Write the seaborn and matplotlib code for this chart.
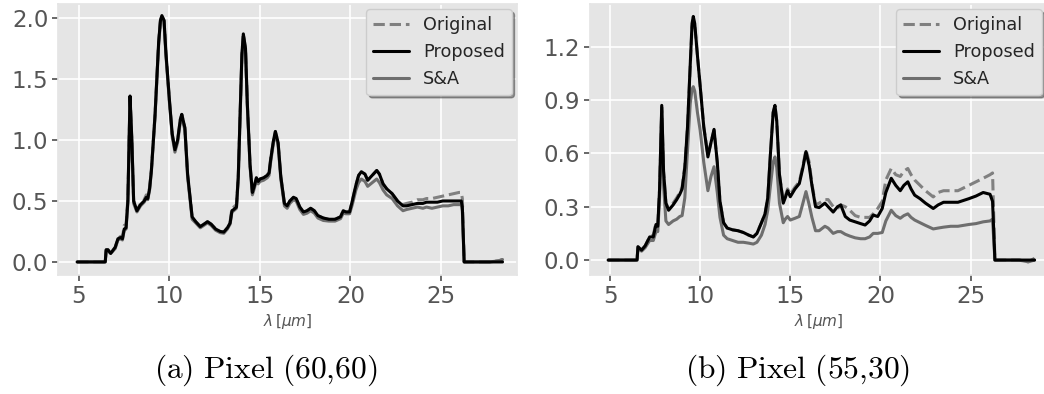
import matplotlib
matplotlib.use("Agg")
import matplotlib.pyplot as plt
import seaborn as sns

# wavelength knots and spectra, pixel (60,60)
left_wl = [4.9, 6.45, 6.5, 6.6, 6.75, 7.0, 7.15, 7.3, 7.4, 7.5,
           7.6, 7.7, 7.82, 7.92, 8.02, 8.2, 8.4, 8.6, 8.72, 8.8,
           8.9, 9.0, 9.2, 9.4, 9.5, 9.58, 9.7, 9.8, 10.0, 10.15,
           10.3, 10.45, 10.6, 10.68, 10.85, 11.0, 11.25, 11.45, 11.7, 11.9,
           12.1, 12.3, 12.55, 12.8, 13.0, 13.2, 13.35, 13.45, 13.55, 13.7,
           13.8, 13.9, 14.0, 14.08, 14.2, 14.3, 14.45, 14.58, 14.7, 14.8,
           14.9, 15.0, 15.2, 15.4, 15.5, 15.6, 15.75, 15.85, 16.0, 16.15,
           16.35, 16.5, 16.65, 16.85, 17.0, 17.2, 17.4, 17.6, 17.8, 18.0,
           18.2, 18.5, 18.8, 19.15, 19.45, 19.6, 19.75, 19.95, 20.1, 20.3,
           20.45, 20.6, 20.8, 20.95, 21.2, 21.45, 21.6, 21.8, 22.0, 22.3,
           22.6, 22.9, 23.1, 23.4, 23.7, 24.0, 24.2, 24.5, 24.8, 25.1,
           25.4, 25.7, 26.0, 26.12, 26.18, 26.28, 27.0, 27.7, 28.2, 28.4]
left_proposed = [0.0, 0.0, 0.10, 0.10, 0.07, 0.12, 0.19, 0.20, 0.19, 0.27,
                 0.28, 0.50, 1.36, 1.00, 0.50, 0.42, 0.47, 0.50, 0.53, 0.52,
                 0.60, 0.75, 1.20, 1.80, 1.98, 2.02, 1.98, 1.72, 1.32, 1.05,
                 0.92, 1.00, 1.17, 1.21, 1.10, 0.72, 0.37, 0.33, 0.29, 0.31,
                 0.33, 0.31, 0.27, 0.25, 0.245, 0.28, 0.32, 0.42, 0.43, 0.45,
                 0.70, 1.20, 1.70, 1.87, 1.75, 1.30, 0.80, 0.57, 0.63, 0.69,
                 0.66, 0.68, 0.69, 0.71, 0.73, 0.85, 1.00, 1.07, 0.98, 0.70,
                 0.48, 0.46, 0.50, 0.53, 0.52, 0.45, 0.41, 0.42, 0.44, 0.42,
                 0.38, 0.36, 0.35, 0.35, 0.37, 0.42, 0.41, 0.41, 0.50, 0.63,
                 0.71, 0.74, 0.72, 0.67, 0.71, 0.75, 0.72, 0.64, 0.60, 0.56,
                 0.50, 0.46, 0.46, 0.47, 0.48, 0.48, 0.49, 0.49, 0.49, 0.50,
                 0.50, 0.50, 0.50, 0.50, 0.45, 0.0, 0.0, 0.0, 0.0, 0.0]
left_original = [0.0, 0.0, 0.10, 0.10, 0.07, 0.12, 0.19, 0.21, 0.20, 0.30,
                 0.30, 0.52, 1.36, 1.00, 0.50, 0.42, 0.48, 0.51, 0.55, 0.53,
                 0.61, 0.76, 1.21, 1.80, 1.98, 2.02, 1.98, 1.72, 1.32, 1.05,
                 0.92, 1.00, 1.17, 1.21, 1.10, 0.72, 0.37, 0.33, 0.29, 0.31,
                 0.33, 0.31, 0.27, 0.25, 0.245, 0.28, 0.33, 0.44, 0.45, 0.47,
                 0.70, 1.20, 1.70, 1.87, 1.75, 1.30, 0.80, 0.57, 0.63, 0.69,
                 0.66, 0.68, 0.69, 0.71, 0.74, 0.86, 1.00, 1.07, 0.98, 0.70,
                 0.48, 0.46, 0.50, 0.53, 0.52, 0.45, 0.41, 0.42, 0.44, 0.42,
                 0.38, 0.36, 0.35, 0.35, 0.37, 0.42, 0.41, 0.41, 0.50, 0.63,
                 0.71, 0.74, 0.72, 0.67, 0.71, 0.75, 0.72, 0.64, 0.60, 0.56,
                 0.50, 0.47, 0.48, 0.49, 0.51, 0.51, 0.52, 0.52, 0.53, 0.54,
                 0.55, 0.56, 0.57, 0.57, 0.52, 0.0, 0.0, 0.0, 0.01, 0.02]
left_sa = [0.0, 0.0, 0.09, 0.09, 0.07, 0.11, 0.18, 0.19, 0.18, 0.26,
           0.27, 0.48, 1.34, 0.98, 0.48, 0.41, 0.46, 0.49, 0.52, 0.51,
           0.59, 0.74, 1.19, 1.78, 1.97, 2.01, 1.97, 1.70, 1.30, 1.03,
           0.90, 0.98, 1.15, 1.19, 1.08, 0.70, 0.35, 0.32, 0.28, 0.30,
           0.32, 0.30, 0.26, 0.24, 0.235, 0.27, 0.31, 0.41, 0.42, 0.44,
           0.68, 1.18, 1.68, 1.85, 1.73, 1.28, 0.78, 0.55, 0.61, 0.67,
           0.64, 0.66, 0.67, 0.69, 0.71, 0.83, 0.98, 1.05, 0.96, 0.68,
           0.46, 0.44, 0.48, 0.51, 0.50, 0.43, 0.39, 0.40, 0.42, 0.40,
           0.36, 0.34, 0.335, 0.335, 0.355, 0.40, 0.395, 0.395, 0.47, 0.59,
           0.65, 0.68, 0.66, 0.62, 0.65, 0.68, 0.65, 0.59, 0.55, 0.52,
           0.46, 0.42, 0.43, 0.44, 0.45, 0.44, 0.45, 0.44, 0.45, 0.46,
           0.46, 0.47, 0.47, 0.47, 0.42, 0.0, 0.0, 0.0, 0.01, 0.02]

# pixel (55,30)
right_wl = [4.9, 6.5, 6.55, 6.75, 6.95, 7.2, 7.4, 7.55, 7.65, 7.75,
            7.87, 7.97, 8.1, 8.25, 8.5, 8.7, 8.87, 9.0, 9.15, 9.3,
            9.45, 9.55, 9.62, 9.7, 9.85, 10.0, 10.2, 10.43, 10.6, 10.77,
            10.95, 11.1, 11.3, 11.5, 11.8, 12.1, 12.4, 12.7, 12.95, 13.15,
            13.4, 13.6, 13.75, 13.9, 14.05, 14.15, 14.25, 14.4, 14.61, 14.72,
            14.85, 15.0, 15.26, 15.5, 15.7, 15.87, 16.05, 16.2, 16.4, 16.6,
            16.92, 17.1, 17.38, 17.62, 17.8, 18.05, 18.3, 18.6, 18.9, 19.15,
            19.4, 19.6, 19.85, 20.1, 20.3, 20.6, 20.85, 21.1, 21.3, 21.52,
            21.7, 21.9, 22.2, 22.5, 22.93, 23.2, 23.5, 23.9, 24.3, 24.9,
            25.3, 25.7, 26.08, 26.22, 26.35, 27.0, 27.7, 28.2, 28.55]
right_proposed = [0.0, 0.0, 0.075, 0.056, 0.08, 0.13, 0.13, 0.20, 0.19, 0.40,
                  0.87, 0.50, 0.32, 0.28, 0.31, 0.34, 0.37, 0.40, 0.52, 0.75,
                  1.10, 1.33, 1.37, 1.33, 1.15, 0.98, 0.75, 0.58, 0.66, 0.735,
                  0.55, 0.33, 0.21, 0.18, 0.17, 0.165, 0.155, 0.14, 0.13, 0.15,
                  0.21, 0.26, 0.35, 0.60, 0.83, 0.87, 0.78, 0.48, 0.32, 0.35,
                  0.39, 0.356, 0.40, 0.43, 0.52, 0.61, 0.53, 0.42, 0.30, 0.295,
                  0.32, 0.30, 0.27, 0.30, 0.31, 0.245, 0.225, 0.215, 0.205, 0.197,
                  0.22, 0.253, 0.245, 0.29, 0.38, 0.46, 0.42, 0.39, 0.42, 0.44,
                  0.40, 0.365, 0.345, 0.32, 0.29, 0.31, 0.325, 0.325, 0.325, 0.345,
                  0.36, 0.38, 0.37, 0.33, 0.0, 0.0, 0.0, 0.0, 0.0]
right_original = [0.0, 0.0, 0.075, 0.056, 0.08, 0.13, 0.14, 0.21, 0.20, 0.40,
                  0.86, 0.50, 0.32, 0.29, 0.32, 0.35, 0.38, 0.41, 0.53, 0.75,
                  1.09, 1.31, 1.35, 1.32, 1.15, 0.98, 0.75, 0.59, 0.66, 0.73,
                  0.55, 0.33, 0.21, 0.18, 0.17, 0.165, 0.155, 0.14, 0.13, 0.15,
                  0.21, 0.26, 0.35, 0.60, 0.83, 0.87, 0.78, 0.48, 0.33, 0.36,
                  0.40, 0.37, 0.41, 0.44, 0.53, 0.62, 0.55, 0.43, 0.31, 0.32,
                  0.34, 0.34, 0.30, 0.29, 0.31, 0.30, 0.28, 0.25, 0.24, 0.24,
                  0.24, 0.26, 0.29, 0.33, 0.45, 0.515, 0.48, 0.47, 0.50, 0.515,
                  0.48, 0.45, 0.42, 0.39, 0.355, 0.38, 0.39, 0.39, 0.39, 0.42,
                  0.44, 0.46, 0.48, 0.49, 0.0, 0.0, 0.0, -0.01, 0.01]
right_sa = [0.0, 0.0, 0.065, 0.05, 0.07, 0.11, 0.11, 0.16, 0.16, 0.35,
            0.84, 0.42, 0.22, 0.20, 0.22, 0.23, 0.245, 0.25, 0.35, 0.62,
            0.88, 0.96, 0.975, 0.95, 0.83, 0.73, 0.55, 0.39, 0.47, 0.525,
            0.38, 0.24, 0.14, 0.12, 0.11, 0.10, 0.10, 0.095, 0.09, 0.10,
            0.14, 0.20, 0.28, 0.42, 0.55, 0.58, 0.52, 0.32, 0.21, 0.23,
            0.245, 0.225, 0.235, 0.245, 0.32, 0.385, 0.31, 0.24, 0.165, 0.165,
            0.19, 0.18, 0.15, 0.16, 0.16, 0.145, 0.135, 0.125, 0.12, 0.12,
            0.13, 0.15, 0.15, 0.155, 0.22, 0.28, 0.25, 0.235, 0.25, 0.26,
            0.24, 0.225, 0.21, 0.195, 0.175, 0.18, 0.185, 0.19, 0.19, 0.20,
            0.205, 0.215, 0.22, 0.23, 0.0, 0.0, 0.0, -0.01, 0.0]

left_yticks = [0.0, 0.5, 1.0, 1.5, 2.0]
right_yticks = [0.0, 0.3, 0.6, 0.9, 1.2]
xticks = [5, 10, 15, 20, 25]
captions = [r"$\mathrm{(a)\ Pixel\ (60{,}60)}$", r"$\mathrm{(b)\ Pixel\ (55{,}30)}$"]


def draw_panel(ax, wl, orig, prop, sa, yticks, xlim, ylim):
    sns.lineplot(x=wl, y=orig, ax=ax, color="#808080", linestyle="--", lw=2.2, label="Original")
    sns.lineplot(x=wl, y=sa, ax=ax, color="#6e6e6e", lw=2.2, label="S&A")
    sns.lineplot(x=wl, y=prop, ax=ax, color="black", lw=2.2, label="Proposed")
    ax.set_xlim(*xlim)
    ax.set_ylim(*ylim)
    ax.set_xticks(xticks)
    ax.set_yticks(yticks)
    ax.set_yticklabels([f"{v:.1f}" for v in yticks])
    ax.set_xlabel(r"$\lambda\,[\mu m]$", fontsize=11, color="#555555", labelpad=3)
    ax.set_ylabel("")
    # legend order: Original, Proposed, S&A
    h, l = ax.get_legend_handles_labels()
    order = [0, 2, 1]
    leg = ax.legend([h[i] for i in order], [l[i] for i in order], loc="upper right",
                    fontsize=12.7, shadow=True, facecolor="#E5E5E5", edgecolor="#CCCCCC",
                    framealpha=1.0, borderaxespad=0.3)
    leg.get_frame().set_linewidth(1.0)


sns.set_theme(style="darkgrid", rc={
    "axes.facecolor": "#E5E5E5",
    "grid.color": "white",
    "grid.linewidth": 1.2,
    "xtick.color": "#555555",
    "ytick.color": "#555555",
    "xtick.bottom": True,
    "ytick.left": True,
    "xtick.major.size": 4,
    "ytick.major.size": 4,
    "axes.edgecolor": "#E5E5E5",
})
plt.rcParams["font.family"] = ["DejaVu Sans"]

W, H = 1044, 394
fig = plt.figure(figsize=(W / 100, H / 100), dpi=100)
ax1 = fig.add_axes([58 / W, 1 - 275 / H, 459 / W, 271 / H])
ax2 = fig.add_axes([590 / W, 1 - 275 / H, 457 / W, 271 / H])

draw_panel(ax1, left_wl, left_original, left_proposed, left_sa, left_yticks,
           (3.84, 29.2), (-0.107, 2.115))
draw_panel(ax2, right_wl, right_original, right_proposed, right_sa, right_yticks,
           (3.89, 29.24), (-0.084, 1.44))

for ax in (ax1, ax2):
    ax.tick_params(labelsize=16.5, pad=3)

# sub-figure captions in Computer Modern
for xc, cap in zip([266, 798], captions):
    fig.text(xc / W, 1 - 370 / H, cap, ha="center", va="center",
             fontsize=22.7, math_fontfamily="cm", color="black")

fig.savefig("out.png", dpi=100)
